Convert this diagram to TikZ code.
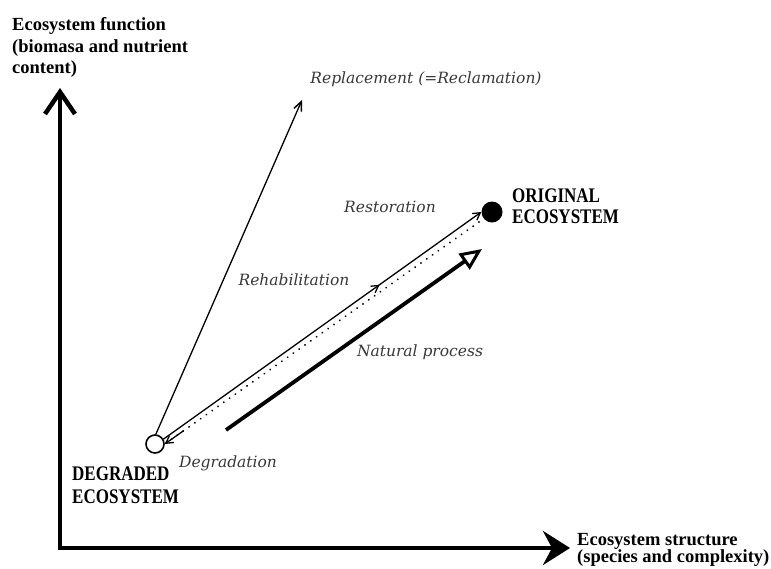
\documentclass[tikz,border=0pt]{standalone}
\usepackage{fontspec}
\setmainfont{Liberation Serif}
\newfontfamily\itfont{DejaVu Serif}
\usetikzlibrary{arrows.meta,decorations.markings,calc}
\tikzset{
  axisline/.style={line width=4pt, line join=miter},
  thinline/.style={line width=1.3pt},
  axislbl/.style={font=\fontsize{18.5}{21}\selectfont\bfseries, inner sep=0pt, anchor=base west},
  caplbl/.style={font=\fontsize{17}{22}\selectfont\bfseries, inner sep=0pt, anchor=base west},
  itlbl/.style={font=\itfont\itshape\fontsize{15.5}{18}\selectfont, text=black!78, inner sep=0pt},
  smallbarb/.style={-{Straight Barb[length=7pt,width=8pt,line width=1.3pt]}},
  dotline/.style={line width=2pt, line cap=round, dash pattern=on 0.1pt off 7pt},
}
\newcommand{\tallcaps}[1]{\scalebox{1}[1.22]{#1}}
\begin{document}
\begin{tikzpicture}[x=1pt,y=-1pt]
\useasboundingbox (0,0) rectangle (771,568);
\fill[white] (0,0) rectangle (771,568);

% axes
\coordinate (origin) at (60,548);
\coordinate (ytip) at (60,88);
\coordinate (xtip) at (570,548);
\draw[axisline, {Straight Barb[length=22pt,width=30pt,line width=4.5pt]}-{Stealth[length=27pt,width=34pt,inset=9pt]}]
  (ytip) -- (origin) -- (xtip);

% axis labels
\node[axislbl] (yl1) at (12,30) {Ecosystem function};
\node[axislbl] (yl2) at (12,52) {(biomasa and nutrient};
\node[axislbl] (yl3) at (12,73) {content)};
\node[axislbl] (xl1) at (577,545) {Ecosystem structure};
\node[axislbl] (xl2) at (577,562) {(species and complexity)};

% states
\node[circle, draw, fill=white, line width=1.6pt, minimum size=18pt, inner sep=0pt] (deg) at (155,444) {};
\node[circle, fill=black, minimum size=21pt, inner sep=0pt] (orig) at (492,212) {};

\node[caplbl] (degl1) at (72,480) {\tallcaps{DEGRADED}};
\node[caplbl] (degl2) at (72,503) {\tallcaps{ECOSYSTEM}};
\node[caplbl] (origl1) at (512,202) {\tallcaps{ORIGINAL}};
\node[caplbl] (origl2) at (512,223) {\tallcaps{ECOSYSTEM}};

% replacement
\coordinate (reptip) at (302,100);
\draw[thinline, -{Straight Barb[length=9pt,width=8pt,line width=1.5pt]}] (deg.85) -- (reptip);

% rehabilitation / restoration
\draw[thinline, smallbarb,
  decoration={markings, mark=at position 0.68 with {\arrow{Straight Barb[length=7pt,width=8pt,line width=1.3pt]}}},
  postaction={decorate}] (deg.30) -- (orig.180);

% degradation (dotted)
\coordinate (dotstart) at (479,222);
\draw[dotline] (dotstart) -- (deg.0);
\draw[thinline, smallbarb] ($(deg.0)!0.06!(dotstart)$) -- (deg.0);

% natural process
\coordinate (np1) at (226,430);
\coordinate (np2) at (482,249);
\draw[line width=3.8pt, -{Triangle[open, length=22pt, width=19pt, line width=3pt]}] (np1) -- (np2);

% labels
\node[itlbl] (lrep) at (426,79) {Replacement (=Reclamation)};
\node[itlbl] (lres) at (390,207) {Restoration};
\node[itlbl] (lreh) at (294,280) {Rehabilitation};
\node[itlbl] (lnat) at (420,352) {Natural process};
\node[itlbl] (ldeg) at (228,463) {Degradation};
\end{tikzpicture}
\end{document}
